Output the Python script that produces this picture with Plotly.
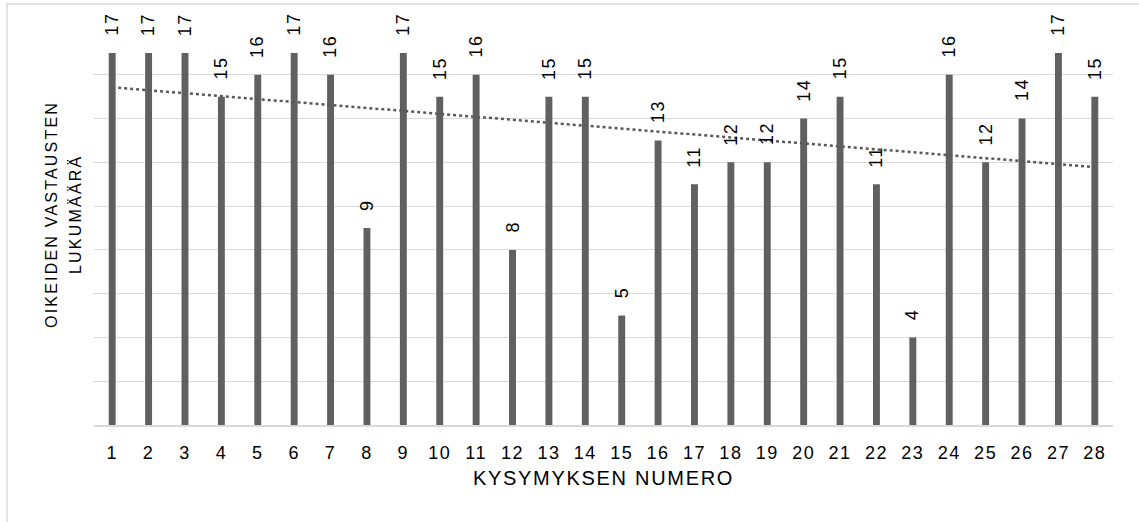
import numpy as np
import plotly.graph_objects as go

questions = list(range(1, 29))
correct = [17, 17, 17, 15, 16, 17, 16, 9, 17, 15, 16, 8, 15, 15, 5, 13, 11, 12, 12, 14, 15, 11, 4, 16, 12, 14, 17, 15]
x_title = "KYSYMYKSEN NUMERO"
y_title_lines = ["OIKEIDEN VASTAUSTEN", "LUKUMÄÄRÄ"]

FONT = "Liberation Sans, Arial, sans-serif"
BAR_COLOR = "#606060"

W, H = 1139, 522
L, R, T, B = 94, 26, 31, 97
PW, PH = W - L - R, H - T - B


def spaced(text, px):
    return '<span style="letter-spacing:%.1fpx">%s</span>' % (px, text)


def px_to_paper_x(px):
    return (px - L) / PW


def px_to_paper_y(py):
    return (H - B - py) / PH


fig = go.Figure()
fig.add_trace(go.Bar(x=questions, y=correct, width=0.19, marker_color=BAR_COLOR,
                     marker_line_width=0, showlegend=False, hoverinfo="x+y"))

# linear trendline (least squares) from the data
slope, intercept = np.polyfit(questions, correct, 1)
trend_x = [questions[0], questions[-1]]
trend_y = [slope * v + intercept for v in trend_x]
fig.add_trace(go.Scatter(x=trend_x, y=trend_y, mode="lines",
                         line=dict(color="#595959", width=2.5, dash="dot"),
                         showlegend=False, hoverinfo="skip"))

for q, v in zip(questions, correct):
    fig.add_annotation(x=q, y=v, text=spaced(str(v), 1.5), textangle=-90, showarrow=False,
                       xref="x", yref="y", yanchor="bottom", xanchor="center",
                       yshift=15, font=dict(family=FONT, size=18, color="#000000"))

# y-axis title (two lines)
for line_text, cx in zip(y_title_lines, [52, 76]):
    fig.add_annotation(x=px_to_paper_x(cx), y=px_to_paper_y(215), xref="paper", yref="paper",
                       text=spaced(line_text, 2.2), textangle=-90, showarrow=False,
                       xanchor="center", yanchor="middle",
                       font=dict(family=FONT, size=16, color="#000000"))

# chart border (right and bottom edges fall outside the visible page)
fig.add_shape(type="rect", xref="paper", yref="paper",
              x0=px_to_paper_x(7), x1=px_to_paper_x(1145),
              y0=px_to_paper_y(530), y1=px_to_paper_y(4),
              line=dict(color="#d9d9d9", width=1.5), layer="below")

fig.update_layout(
    width=W, height=H,
    margin=dict(l=L, r=R, t=T, b=B),
    paper_bgcolor="white", plot_bgcolor="white",
    font=dict(family=FONT, size=18, color="#000000"),
    bargap=0.8,
)
fig.update_xaxes(range=[0.5, 28.5], tickmode="array", tickvals=questions,
                 ticktext=[spaced(str(q), 1.5) for q in questions], showgrid=False,
                 showline=True, linecolor="#d9d9d9", linewidth=1.5,
                 ticks="", ticklabelstandoff=11, zeroline=False, automargin=False,
                 title=dict(text=spaced(x_title, 1.7), standoff=9,
                            font=dict(size=20)))
fig.update_yaxes(range=[0, 18], dtick=2, showgrid=True, gridcolor="#d9d9d9",
                 gridwidth=1, showticklabels=False, zeroline=False, ticks="",
                 automargin=False)

fig.write_html("out.html", config={"displayModeBar": False},
               post_script="document.body.style.margin='0';")
